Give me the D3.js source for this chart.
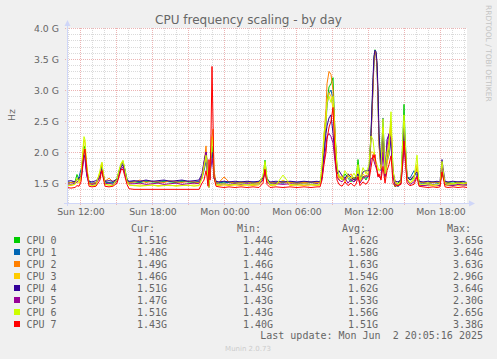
<!DOCTYPE html>
<html><head><meta charset="utf-8">
<script src="https://cdn.jsdelivr.net/npm/d3@7"></script>
<style>html,body{margin:0;padding:0;background:#f0f0f0;}svg{display:block;}</style>
</head><body><svg id="c" width="497" height="359"></svg>
<script>
// time in minutes since Sun 00:00 (5-minute resolution)
const times = [
 655,675,695,705,715,
 725,730,735,740,745,750,755,765,780,
 800,820,825,830,835,845,865,885,
 905,915,925,935,945,955,965,
 990,1020,1050,1080,1110,1140,1170,1200,1230,1260,1290,1315,
 1330,1340,1350,1355,1360,1365,1370,1375,1380,1385,1390,1400,
 1415,1440,1465,1495,1525,1555,1585,1615,
 1635,1645,1655,
 1670,1700,1735,1770,1805,1840,1875,1905,
 1920,1930,1940,1950,1955,1965,1975,1985,1995,2005,
 2015,2030,2045,2060,2075,2090,2100,2110,2120,2135,2150,2165,
 2175,2185,2190,2195,2200,2205,2210,2215,2225,2235,2245,2255,2265,2275,2285,2295,2310,
 2325,2335,2340,2345,2355,2370,2390,2405,2415,
 2435,2460,2485,2505,2520,2530,2535,2545,2560,2585,2610,2635,2655
];
// GHz values
const cpu0 = [
 1.50,1.51,1.52,1.64,1.55,
 1.62,1.80,1.95,2.10,2.05,1.85,1.70,1.52,1.49,
 1.50,1.62,1.72,1.78,1.66,1.52,1.51,1.50,
 1.58,1.70,1.80,1.85,1.70,1.56,1.51,
 1.52,1.51,1.53,1.52,1.51,1.53,1.52,1.51,1.53,1.52,1.51,1.52,
 1.60,1.75,1.95,1.80,1.55,1.46,1.70,1.90,2.10,1.95,1.60,1.51,
 1.50,1.52,1.51,1.50,1.52,1.51,1.50,1.52,
 1.60,1.87,1.58,
 1.51,1.50,1.52,1.51,1.50,1.52,1.51,1.50,
 1.52,1.68,2.20,2.58,2.80,3.05,3.10,3.20,2.30,1.75,
 1.62,1.55,1.65,1.58,1.52,1.60,1.55,1.88,1.58,1.62,1.55,1.65,
 2.30,3.10,3.50,3.65,3.60,3.40,2.90,2.20,1.75,2.45,1.65,1.90,2.05,2.40,1.70,1.44,1.50,
 1.56,2.30,2.77,2.30,1.62,1.55,1.58,1.75,1.52,
 1.51,1.50,1.52,1.51,1.50,1.65,1.60,1.52,1.51,1.50,1.52,1.50,1.51
];
const cpu1 = [
 1.52,1.51,1.53,1.55,1.60,
 1.72,1.70,1.85,2.00,1.98,1.80,1.65,1.50,1.50,
 1.51,1.58,1.68,1.75,1.62,1.52,1.50,1.51,
 1.55,1.68,1.78,1.83,1.72,1.55,1.52,
 1.53,1.52,1.54,1.53,1.52,1.54,1.53,1.52,1.54,1.53,1.52,1.53,
 1.58,1.70,1.85,1.75,1.52,1.47,1.65,1.80,2.00,1.90,1.58,1.50,
 1.51,1.50,1.52,1.51,1.50,1.51,1.52,1.50,
 1.55,1.72,1.55,
 1.50,1.51,1.50,1.52,1.51,1.50,1.51,1.52,
 1.50,1.62,2.05,2.45,2.75,2.95,3.00,2.85,2.25,1.70,
 1.60,1.58,1.55,1.62,1.55,1.52,1.58,1.65,1.55,1.60,1.58,1.62,
 2.25,3.05,3.50,3.64,3.58,3.38,2.85,2.15,1.70,2.55,1.62,1.85,1.95,2.20,1.65,1.52,1.44,
 1.52,2.00,2.30,2.05,1.60,1.58,1.70,1.62,1.50,
 1.50,1.49,1.51,1.50,1.49,1.70,1.62,1.50,1.49,1.48,1.50,1.49,1.48
];
const cpu2 = [
 1.50,1.51,1.52,1.56,1.58,
 1.60,1.75,1.92,2.05,2.02,1.82,1.66,1.50,1.49,
 1.51,1.65,1.76,1.80,1.68,1.53,1.58,1.52,
 1.56,1.66,1.76,1.80,1.66,1.54,1.51,
 1.52,1.55,1.51,1.53,1.52,1.51,1.54,1.52,1.51,1.53,1.52,1.51,
 1.62,1.80,2.10,1.85,1.55,1.50,1.72,1.95,2.25,2.37,1.70,1.52,
 1.51,1.60,1.52,1.50,1.51,1.52,1.50,1.51,
 1.55,1.75,1.56,
 1.51,1.50,1.52,1.51,1.50,1.51,1.52,1.51,
 1.51,1.65,2.25,2.70,3.10,3.30,3.25,3.00,2.35,1.72,
 1.58,1.62,1.55,1.60,1.65,1.55,1.58,1.62,1.55,1.58,1.62,1.60,
 2.20,3.00,3.45,3.63,3.58,3.35,2.80,2.10,1.72,2.40,1.62,1.95,2.20,2.50,1.70,1.54,1.46,
 1.55,2.10,2.50,2.15,1.60,1.55,1.62,1.72,1.52,
 1.51,1.50,1.51,1.52,1.50,1.68,1.62,1.51,1.50,1.49,1.51,1.50,1.49
];
const cpu3 = [
 1.47,1.46,1.48,1.52,1.50,
 1.55,1.78,2.00,2.20,2.15,1.90,1.72,1.48,1.46,
 1.47,1.68,1.78,1.82,1.66,1.48,1.47,1.46,
 1.55,1.68,1.80,1.84,1.70,1.52,1.47,
 1.46,1.47,1.46,1.47,1.46,1.47,1.46,1.46,1.47,1.46,1.47,1.46,
 1.58,1.75,1.92,1.80,1.50,1.44,1.65,1.90,2.25,2.20,1.60,1.47,
 1.46,1.47,1.46,1.47,1.46,1.47,1.46,1.47,
 1.55,1.80,1.55,
 1.46,1.47,1.55,1.46,1.47,1.46,1.47,1.46,
 1.47,1.75,2.15,2.50,2.80,2.96,2.90,2.70,2.20,1.68,
 1.55,1.60,1.52,1.65,1.58,1.55,1.62,1.70,1.52,1.65,1.60,1.70,
 2.00,2.00,1.95,1.80,1.78,1.75,1.65,1.62,1.60,2.30,1.58,1.80,2.00,2.45,1.65,1.50,1.46,
 1.50,2.05,2.50,2.10,1.56,1.50,1.55,1.80,1.47,
 1.46,1.47,1.46,1.45,1.47,1.80,1.70,1.47,1.46,1.47,1.46,1.47,1.46
];
const cpu4 = [
 1.53,1.54,1.52,1.55,1.58,
 1.62,1.70,1.85,1.95,1.92,1.75,1.62,1.53,1.52,
 1.54,1.60,1.68,1.72,1.62,1.53,1.54,1.53,
 1.56,1.65,1.75,1.80,1.68,1.55,1.53,
 1.54,1.53,1.55,1.53,1.54,1.55,1.53,1.54,1.55,1.53,1.54,1.55,
 1.65,1.85,2.00,1.85,1.55,1.45,1.68,1.85,2.00,1.90,1.62,1.53,
 1.52,1.53,1.52,1.53,1.52,1.53,1.52,1.53,
 1.58,1.72,1.56,
 1.52,1.53,1.52,1.53,1.52,1.53,1.52,1.53,
 1.52,1.60,1.95,2.30,2.42,2.55,2.60,2.30,1.95,1.65,
 1.70,1.62,1.58,1.65,1.60,1.55,1.60,1.65,1.58,1.68,1.70,1.70,
 2.30,3.20,3.55,3.64,3.62,3.45,3.00,2.30,1.80,2.30,1.62,2.20,2.29,2.10,1.65,1.53,1.52,
 1.55,2.00,2.40,2.05,1.60,1.55,1.62,1.68,1.53,
 1.52,1.53,1.52,1.53,1.52,1.88,1.75,1.53,1.52,1.53,1.52,1.53,1.51
];
const cpu5 = [
 1.49,1.48,1.50,1.52,1.55,
 1.58,1.65,1.80,1.92,1.90,1.72,1.60,1.49,1.48,
 1.49,1.60,1.68,1.72,1.62,1.49,1.50,1.48,
 1.53,1.63,1.72,1.76,1.64,1.52,1.49,
 1.49,1.50,1.48,1.49,1.50,1.48,1.49,1.50,1.48,1.49,1.50,1.49,
 1.62,1.82,2.00,1.75,1.50,1.43,1.60,1.78,1.90,1.80,1.58,1.49,
 1.48,1.49,1.48,1.49,1.48,1.49,1.48,1.49,
 1.55,1.68,1.52,
 1.48,1.49,1.48,1.49,1.48,1.49,1.48,1.49,
 1.48,1.58,1.85,2.10,2.25,2.30,2.25,2.15,1.85,1.60,
 1.55,1.52,1.58,1.50,1.56,1.52,1.55,1.60,1.50,1.58,1.62,1.60,
 1.90,1.90,1.85,1.80,1.75,1.70,1.62,1.60,1.58,2.00,1.60,2.10,2.30,2.20,1.60,1.48,1.46,
 1.50,1.85,2.10,1.90,1.55,1.48,1.52,1.62,1.47,
 1.46,1.47,1.48,1.47,1.46,1.80,1.68,1.48,1.47,1.46,1.48,1.47,1.47
];
const cpu6 = [
 1.46,1.47,1.48,1.58,1.52,
 1.60,1.85,2.05,2.25,2.20,1.95,1.75,1.48,1.46,
 1.47,1.70,1.80,1.84,1.68,1.48,1.47,1.46,
 1.56,1.70,1.82,1.87,1.72,1.53,1.47,
 1.46,1.45,1.46,1.47,1.45,1.46,1.47,1.45,1.46,1.47,1.45,1.46,
 1.58,1.78,1.95,1.82,1.50,1.43,1.68,1.92,2.20,2.15,1.62,1.48,
 1.48,1.49,1.47,1.48,1.49,1.47,1.48,1.49,
 1.62,1.85,1.56,
 1.48,1.47,1.63,1.48,1.47,1.49,1.48,1.47,
 1.48,1.80,2.30,2.55,2.80,2.90,2.80,2.90,2.25,1.78,
 1.62,1.55,1.70,1.62,1.58,1.66,1.60,1.80,1.55,1.75,1.65,1.80,
 2.26,2.20,2.05,1.90,1.85,1.80,1.75,1.70,1.75,2.54,1.65,2.00,2.10,2.65,1.70,1.52,1.48,
 1.52,2.30,2.60,2.20,1.58,1.50,1.58,1.95,1.48,
 1.48,1.49,1.47,1.48,1.49,1.85,1.72,1.49,1.48,1.49,1.50,1.49,1.51
];
const cpu7 = [
 1.43,1.42,1.43,1.46,1.45,
 1.52,1.70,1.85,1.98,2.05,1.88,1.68,1.45,1.44,
 1.45,1.55,1.65,1.70,1.60,1.45,1.44,1.45,
 1.50,1.60,1.72,1.72,1.60,1.48,1.41,
 1.40,1.40,1.40,1.40,1.40,1.40,1.40,1.40,1.40,1.40,1.40,1.40,
 1.50,1.55,1.70,1.60,1.45,1.88,1.55,2.30,3.38,2.50,1.60,1.45,
 1.44,1.43,1.44,1.43,1.44,1.43,1.44,1.43,
 1.50,1.72,1.48,
 1.43,1.44,1.43,1.44,1.43,1.44,1.43,1.44,
 1.44,1.55,1.80,2.00,2.20,2.40,2.50,2.72,1.95,1.55,
 1.48,1.45,1.52,1.46,1.50,1.45,1.48,1.60,1.46,1.52,1.48,1.55,
 1.75,1.96,1.90,1.96,1.80,1.70,1.60,1.65,1.55,1.77,1.50,1.70,1.80,1.94,1.50,1.45,1.46,
 1.48,1.90,2.18,2.00,1.50,1.46,1.48,1.60,1.45,
 1.44,1.43,1.44,1.43,1.44,1.68,1.60,1.44,1.43,1.44,1.43,1.44,1.43
];
const seriesNames = ["CPU 0","CPU 1","CPU 2","CPU 3","CPU 4","CPU 5","CPU 6","CPU 7"];
const curVals = ["1.51G","1.48G","1.49G","1.46G","1.51G","1.47G","1.51G","1.43G"];
const minVals = ["1.44G","1.44G","1.46G","1.44G","1.45G","1.43G","1.43G","1.40G"];
const avgVals = ["1.62G","1.58G","1.63G","1.54G","1.62G","1.53G","1.56G","1.51G"];
const maxVals = ["3.65G","3.64G","3.63G","2.96G","3.64G","2.30G","2.65G","3.38G"];
const xTickValues = [720,1080,1440,1800,2160,2520];
const xTickLabels = ["Sun 12:00","Sun 18:00","Mon 00:00","Mon 06:00","Mon 12:00","Mon 18:00"];
const yTickValues = [1.5,2.0,2.5,3.0,3.5,4.0];
const yTickLabels = ["1.5 G","2.0 G","2.5 G","3.0 G","3.5 G","4.0 G"];
const xDomain = [655, 2655];
const yDomain = [1.18, 4.0];

const colors = ["#00cc00","#0066b3","#ff8000","#ffcc00","#330099","#990099","#ccff00","#ff0000"];
const allSeries = [cpu0,cpu1,cpu2,cpu3,cpu4,cpu5,cpu6,cpu7];

const svg = d3.select("#c");
const L = 67, R = 467, T = 28, B = 203;
const x = d3.scaleLinear().domain(xDomain).range([L, R]);
const y = d3.scaleLinear().domain(yDomain).range([B, T]);
const FONT = "'DejaVu Sans', sans-serif";
const MONO = "'DejaVu Sans Mono', monospace";
const FC = "#666666";

svg.append("rect").attr("width",497).attr("height",359).attr("fill","#f0f0f0");
svg.append("rect").attr("x",L).attr("y",T).attr("width",R-L).attr("height",B-T).attr("fill","#ffffff");

// minor grid
const g = svg.append("g");
const minorX = d3.range(660, 2655, 60).filter(m => m % 180 !== 0);
g.selectAll(".mvx").data(minorX).join("line")
 .attr("x1",d=>Math.round(x(d))+0.5).attr("x2",d=>Math.round(x(d))+0.5)
 .attr("y1",T).attr("y2",B)
 .attr("stroke","#dadada").attr("stroke-dasharray","1,1");
const minorY = d3.range(13, 41).map(v=>v/10).filter(v => Math.round(v*10) % 5 !== 0);
g.selectAll(".mhy").data(minorY).join("line")
 .attr("y1",d=>Math.round(y(d))+0.5).attr("y2",d=>Math.round(y(d))+0.5)
 .attr("x1",L).attr("x2",R)
 .attr("stroke","#dadada").attr("stroke-dasharray","1,1");
// major grid
const majorX = d3.range(720, 2655, 180);
g.selectAll(".Mvx").data(majorX).join("line")
 .attr("x1",d=>Math.round(x(d))+0.5).attr("x2",d=>Math.round(x(d))+0.5)
 .attr("y1",T).attr("y2",B+3)
 .attr("stroke","#ecb4b4").attr("stroke-dasharray","1,1");
g.selectAll(".Mhy").data(yTickValues).join("line")
 .attr("y1",d=>Math.round(y(d))+0.5).attr("y2",d=>Math.round(y(d))+0.5)
 .attr("x1",L-2).attr("x2",R)
 .attr("stroke","#ecb4b4").attr("stroke-dasharray","1,1");

// series lines
const line = d3.line().x((d,i)=>x(times[i])).y(d=>y(d));
allSeries.forEach((s,i)=>{
  svg.append("path").attr("d", line(s)).attr("fill","none")
   .attr("stroke", colors[i]).attr("stroke-width",1).attr("stroke-linejoin","round");
});

// axes
const AX = "#cfd6f8";
svg.append("line").attr("x1",L+0.5).attr("x2",L+0.5).attr("y1",B+3).attr("y2",T-5).attr("stroke",AX);
svg.append("line").attr("x1",L-3).attr("x2",R+3).attr("y1",B+0.5).attr("y2",B+0.5).attr("stroke",AX);
svg.append("path").attr("d",`M${L-2.5},${T-2} L${L+3.5},${T-2} L${L+0.5},${T-8} Z`).attr("fill",AX);
svg.append("path").attr("d",`M${R+2},${B-2.5} L${R+2},${B+3.5} L${R+8},${B+0.5} Z`).attr("fill",AX);

// y ticks
svg.selectAll(".yl").data(yTickValues).join("text")
 .attr("x",59).attr("y",d=>Math.round(y(d))+3.5).attr("text-anchor","end")
 .attr("font-family",FONT).attr("font-size","9.33px").attr("fill",FC)
 .text((d,i)=>yTickLabels[i]);
// x ticks
svg.selectAll(".xl").data(xTickValues).join("text")
 .attr("x",d=>x(d)+1).attr("y",215).attr("text-anchor","middle")
 .attr("font-family",FONT).attr("font-size","9.33px").attr("fill",FC)
 .text((d,i)=>xTickLabels[i]);

// title
svg.append("text").attr("x",248.5).attr("y",23.5).attr("text-anchor","middle")
 .attr("font-family",FONT).attr("font-size","12px").attr("fill",FC)
 .text("CPU frequency scaling - by day");
// unit label
svg.append("text").attr("transform","translate(15,115) rotate(-90)").attr("text-anchor","middle")
 .attr("font-family",FONT).attr("font-size","9.33px").attr("fill",FC).text("Hz");
// watermark
svg.append("text").attr("transform","translate(486,5) rotate(90)").attr("text-anchor","start")
 .attr("font-family",FONT).attr("font-size","7.5px").attr("fill","#c4c4c4").text("RRDTOOL / TOBI OETIKER");

// legend
const lg = svg.append("g").attr("font-family",MONO).attr("font-size","10px").attr("fill",FC);
const hdrY = 232;
[["Cur:",131],["Min:",237],["Avg:",342],["Max:",447]].forEach(([t,xx])=>{
  lg.append("text").attr("x",xx).attr("y",hdrY).text(t);
});
const cols = [[curVals,167],[minVals,273],[avgVals,378],[maxVals,483]];
seriesNames.forEach((n,i)=>{
  const cy = 240 + 12*i;
  svg.append("rect").attr("x",14).attr("y",cy-3).attr("width",6).attr("height",6).attr("fill",colors[i]);
  lg.append("text").attr("x",26.5).attr("y",cy+3.5).text(n);
  cols.forEach(([arr,xx])=>{
    lg.append("text").attr("x",xx).attr("y",cy+3.5).attr("text-anchor","end").text(arr[i]);
  });
});
lg.append("text").attr("x",483).attr("y",338.5).attr("text-anchor","end").attr("xml:space","preserve")
  .style("white-space","pre").text("Last update: Mon Jun  2 20:05:16 2025");
svg.append("text").attr("x",248).attr("y",350.5).attr("text-anchor","middle")
 .attr("font-family",FONT).attr("font-size","7px").attr("fill","#cccccc").text("Munin 2.0.73");
</script></body></html>
